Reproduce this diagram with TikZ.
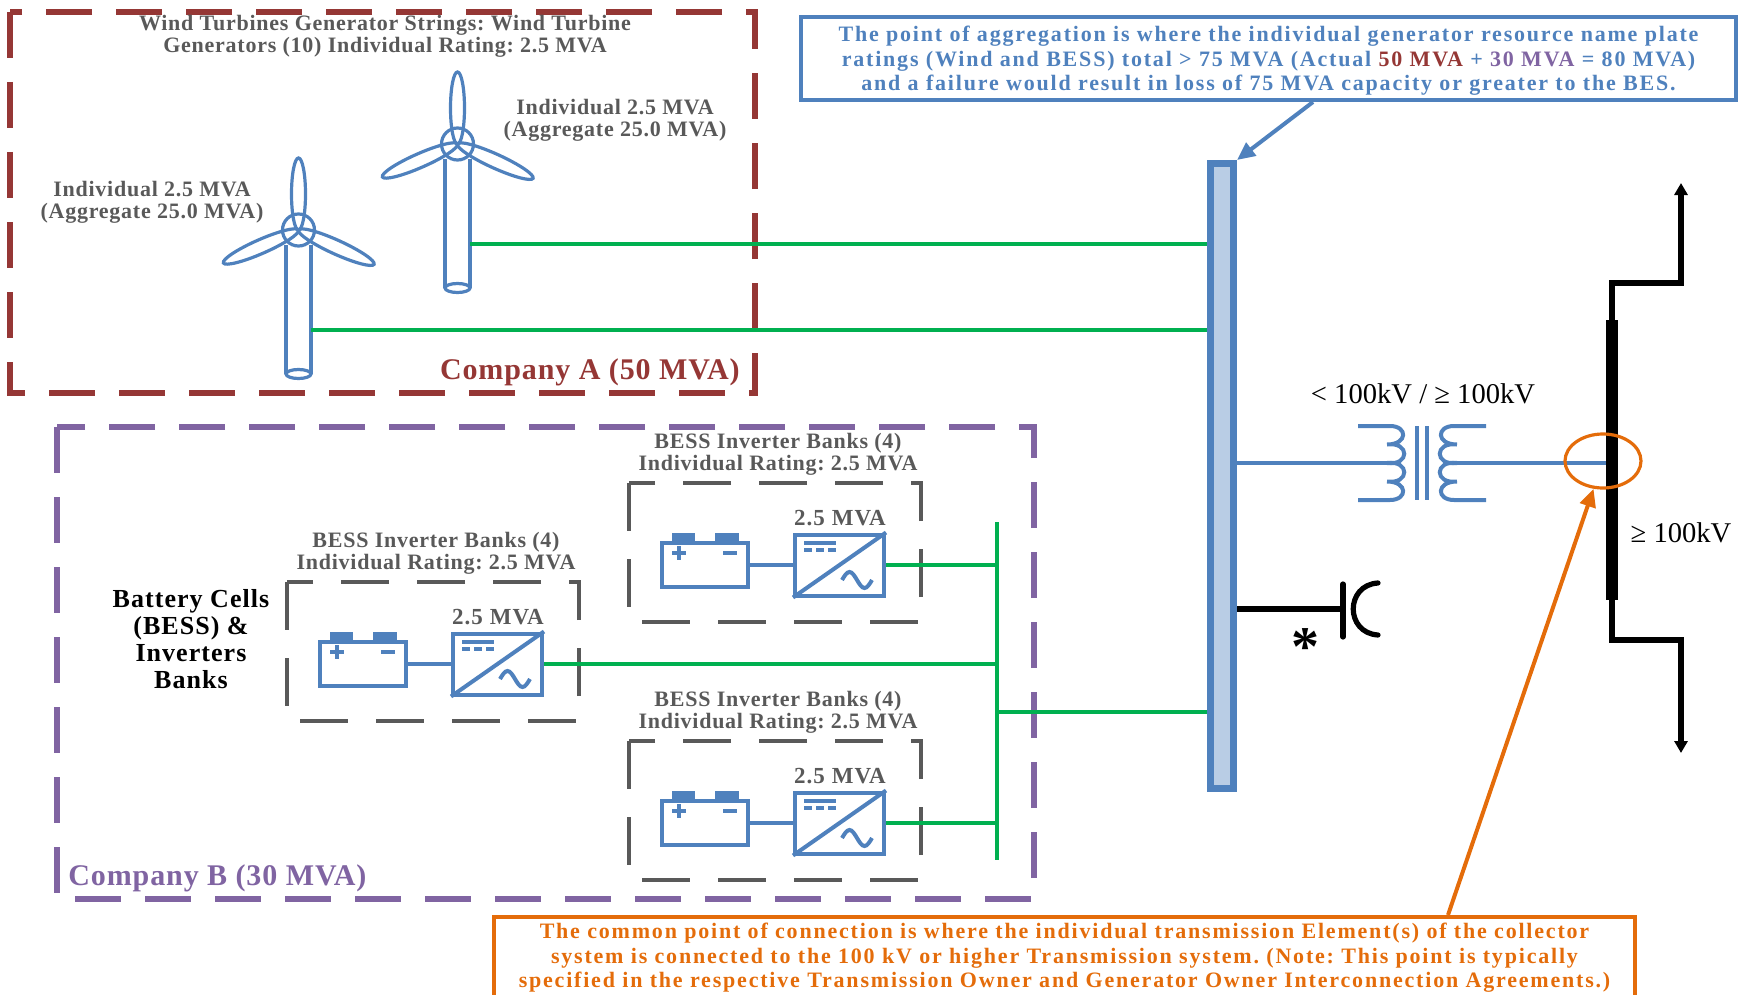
\documentclass[tikz,border=0pt]{standalone}
\usepackage{fontspec}
\setmainfont{Liberation Serif}
\usetikzlibrary{arrows.meta,shapes.geometric}
\definecolor{cA}{HTML}{953735}
\definecolor{cB}{HTML}{8064A2}
\definecolor{bl}{HTML}{4F81BD}
\definecolor{blf}{HTML}{B9CDE5}
\definecolor{gr}{HTML}{00B050}
\definecolor{gy}{HTML}{595959}
\definecolor{og}{HTML}{E46C0A}
\tikzset{
  compA/.style={draw=cA, line width=2.6pt, dash pattern=on 23pt off 12pt},
  compB/.style={draw=cB, line width=2.6pt, dash pattern=on 23pt off 12pt},
  grpbox/.style={draw=gy, line width=2.2pt, dash pattern=on 24pt off 14pt},
  wire/.style={draw=gr, line width=2.3pt},
  ic/.style={draw=bl, line width=1.6pt},
  icthick/.style={draw=bl, line width=2pt},
  blk/.style={draw=black, line width=2.6pt},
  lbl/.style={font=\frenchspacing\fontsize{11}{11}\selectfont\bfseries\addfontfeature{LetterSpace=3.4}, text=gy, align=center, inner sep=0pt},
  mva/.style={font=\fontsize{11.5}{11}\selectfont\bfseries\addfontfeature{LetterSpace=4.5}, text=gy, inner sep=0pt},
  note/.style={font=\frenchspacing\fontsize{11}{12.3}\selectfont\bfseries\addfontfeature{LetterSpace=8.2}, align=center, inner sep=0},
  comp/.style={font=\fontsize{15}{15}\selectfont\bfseries\addfontfeature{LetterSpace=3}, inner sep=0},
  volt/.style={font=\fontsize{14.3}{15}\selectfont, text=black, inner sep=0pt},
}
\newcommand\myturbine[3]{%
\begin{scope}[shift={(#1,#2)}]
  \draw[ic] (-12.5,15) -- (-12.5,144) (12.5,15) -- (12.5,144);
  \draw[ic] (0,144) ellipse [x radius=12.5, y radius=4.5];
  \draw[ic] (0,0) circle [radius=16];
  \draw[ic, rotate=90] (36,0) ellipse [x radius=36, y radius=7];
  \draw[ic, rotate=203.7] (41,0) ellipse [x radius=41, y radius=7];
  \draw[ic, rotate=-24.4] (41.5,0) ellipse [x radius=41.5, y radius=7];
  \coordinate (#3) at (12.5,100);
\end{scope}}
\newcommand\bessgroup[3]{%
\begin{scope}[shift={(#1,#2)}]
  \draw[grpbox] (0,0) rectangle (292,139);
  \node[lbl] (#3lbl) at (149,-29) {BESS Inverter Banks (4)\\Individual Rating: 2.5 MVA};
  \fill[bl] (43,50) rectangle (66,60);
  \fill[bl] (86,50) rectangle (110,60);
  \node[icthick, minimum width=43pt, minimum height=22pt, inner sep=0] (#3bat) at (76,82) {};
  \draw[icthick] (43,70) -- (57,70) (50,63) -- (50,77);
  \draw[icthick] (94,70) -- (108,70);
  \node[icthick, minimum width=44.5pt, minimum height=30.5pt, inner sep=0] (#3inv) at (210.5,82) {};
  \draw[icthick] (#3inv.south west) -- (#3inv.north east);
  \draw[icthick] (175,60) -- (207,60);
  \draw[icthick, dash pattern=on 4pt off 2pt] (175,67) -- (207,67);
  \draw[icthick] (213,97) sin (220.5,89) cos (228,97) sin (235.5,105) cos (243,97);
  \node[mva] (#3mva) at (211,35) {2.5 MVA};
  \draw[icthick] (#3bat) -- (#3inv);
  \draw[wire] (#3inv.east) -- (#3inv.east -| gtop);
\end{scope}}
\begin{document}
\begin{tikzpicture}[x=0.5pt,y=-0.5pt]
\useasboundingbox (0,0) rectangle (1740,995);
% ---------- Company A ----------
\draw[compA] (10,12) rectangle (755,393);
\node[lbl] (wtitle) at (385,36) {Wind Turbines Generator Strings: Wind Turbine\\Generators (10) Individual Rating: 2.5 MVA};
\node[lbl] (t2lbl) at (615,120) {Individual 2.5 MVA\\(Aggregate 25.0 MVA)};
\node[lbl] (t1lbl) at (152,202) {Individual 2.5 MVA\\(Aggregate 25.0 MVA)};
\node[comp, text=cA, anchor=east] (clA) at (740,372) {Company A (50 MVA)};
\myturbine{457.5}{144}{t2w}
\myturbine{298.5}{230}{t1w}
% ---------- main bus ----------
\node[draw=bl, fill=blf, line width=3.5pt, minimum width=11.5pt, minimum height=312.5pt, inner sep=0] (bus) at (1222,476) {};
\draw[wire] (t2w) -- (t2w -| bus.west);
\draw[wire] (t1w) -- (t1w -| bus.west);
% ---------- aggregation note ----------
\node[draw=bl, line width=2pt, minimum width=467.5pt, minimum height=41.5pt, inner sep=0] (agg) at (1268.5,58.5) {};
\node[note, text=bl] (aggtxt) at (1268.5,61)
 {The point of aggregation is where the individual generator resource name plate\\
  ratings (Wind and BESS) total > 75 MVA (Actual \textcolor{cA}{50 MVA} + \textcolor{cB}{30 MVA} = 80 MVA)\\
  and a failure would result in loss of 75 MVA capacity or greater to the BES.};
\draw[draw=bl, line width=2pt, -{Triangle[width=8pt,length=9pt]}] ([xshift=22.25pt]agg.south) -- (bus.north east);
% ---------- Company B ----------
\draw[compB] (57,427) rectangle (1034,899);
\node[comp, text=cB, anchor=west] (clB) at (68,878) {Company B (30 MVA)};
\node[font=\fontsize{13}{13.4}\selectfont\bfseries\addfontfeature{LetterSpace=4}, align=center, inner sep=0] (bcl) at (191,639) {Battery Cells\\(BESS) \&\\Inverters\\Banks};
\coordinate (gtop) at (997,522);
\coordinate (gbot) at (997,860);
\coordinate (gj) at (997,712);
\draw[wire] (gtop) -- (gbot);
\bessgroup{287}{582}{ga}
\bessgroup{629}{483}{gb}
\bessgroup{629}{741}{gc}
\draw[wire] (gj) -- (gj -| bus.west);
% ---------- transformer ----------
\node[draw=none, fill=black, minimum width=6pt, minimum height=140pt, inner sep=0] (rbus) at (1612,460) {};
\begin{scope}[shift={(1422,463)}]
  \draw[icthick] (-64,-37) -- (-32,-37) .. controls (-14,-37) and (-14,-18.5) .. (-35,-18.5)
     .. controls (-12,-21.5) and (-12,3) .. (-35,0)
     .. controls (-12,-3) and (-12,21.5) .. (-35,18.5)
     .. controls (-14,18.5) and (-14,37) .. (-32,37) -- (-64,37);
  \draw[icthick] (64,-37) -- (32,-37) .. controls (14,-37) and (14,-18.5) .. (35,-18.5)
     .. controls (12,-21.5) and (12,3) .. (35,0)
     .. controls (12,-3) and (12,21.5) .. (35,18.5)
     .. controls (14,18.5) and (14,37) .. (32,37) -- (64,37);
  \draw[icthick] (-5,-37) -- (-5,37) (5,-37) -- (5,37);
  \coordinate (tp) at (-35,0);
  \coordinate (ts) at (35,0);
\end{scope}
\draw[ic] (bus.east |- tp) -- (tp);
\draw[ic] (ts) -- (ts -| rbus.west);
\node[volt] (tlbl) at (1423,394) {< 100kV / ≥ 100kV};
\node[volt] (hvlbl) at (1681,533) {≥ 100kV};
% ---------- HV lines ----------
\coordinate (upend) at (1681,183);
\coordinate (dnend) at (1681,753);
\draw[blk, -{Triangle[width=6.5pt,length=6pt]}] (rbus.north) -- (rbus.north |- 0,283) -| (upend);
\draw[blk, -{Triangle[width=6.5pt,length=6pt]}] (rbus.south) -- (rbus.south |- 0,640) -| (dnend);
% ---------- capacitor ----------
\coordinate (cplate) at (1343,609);
\draw[blk] (bus.east |- cplate) -- (cplate);
\draw[blk, line width=2.6pt, line cap=round] (1343,584) -- (1343,637);
\draw[blk, line width=2.6pt, line cap=round] (1378,583) .. controls (1345,585) and (1345,633) .. (1378,635);
\node[font=\fontsize{28}{28}\selectfont\bfseries, inner sep=0, anchor=base] (ast) at (1305,665) {*};
% ---------- common point of connection ----------
\node[draw=og, ellipse, line width=1.6pt, minimum width=38pt, minimum height=27pt, inner sep=0] (poc) at (1603,461) {};
\node[draw=og, line width=2pt, minimum width=570.5pt, minimum height=41pt, inner sep=0] (cpc) at (1064.5,958) {};
\node[note, text=og] (cpctxt) at (1064.5,958)
 {The common point of connection is where the individual transmission Element(s) of the collector\\
  system is connected to the 100 kV or higher Transmission system. (Note: This point is typically\\
  specified in the respective Transmission Owner and Generator Owner Interconnection Agreements.)};
\draw[draw=og, line width=2pt, -{Triangle[width=8pt,length=9pt]}] ([xshift=191.75pt]cpc.north) -- (poc);
\end{tikzpicture}
\end{document}
